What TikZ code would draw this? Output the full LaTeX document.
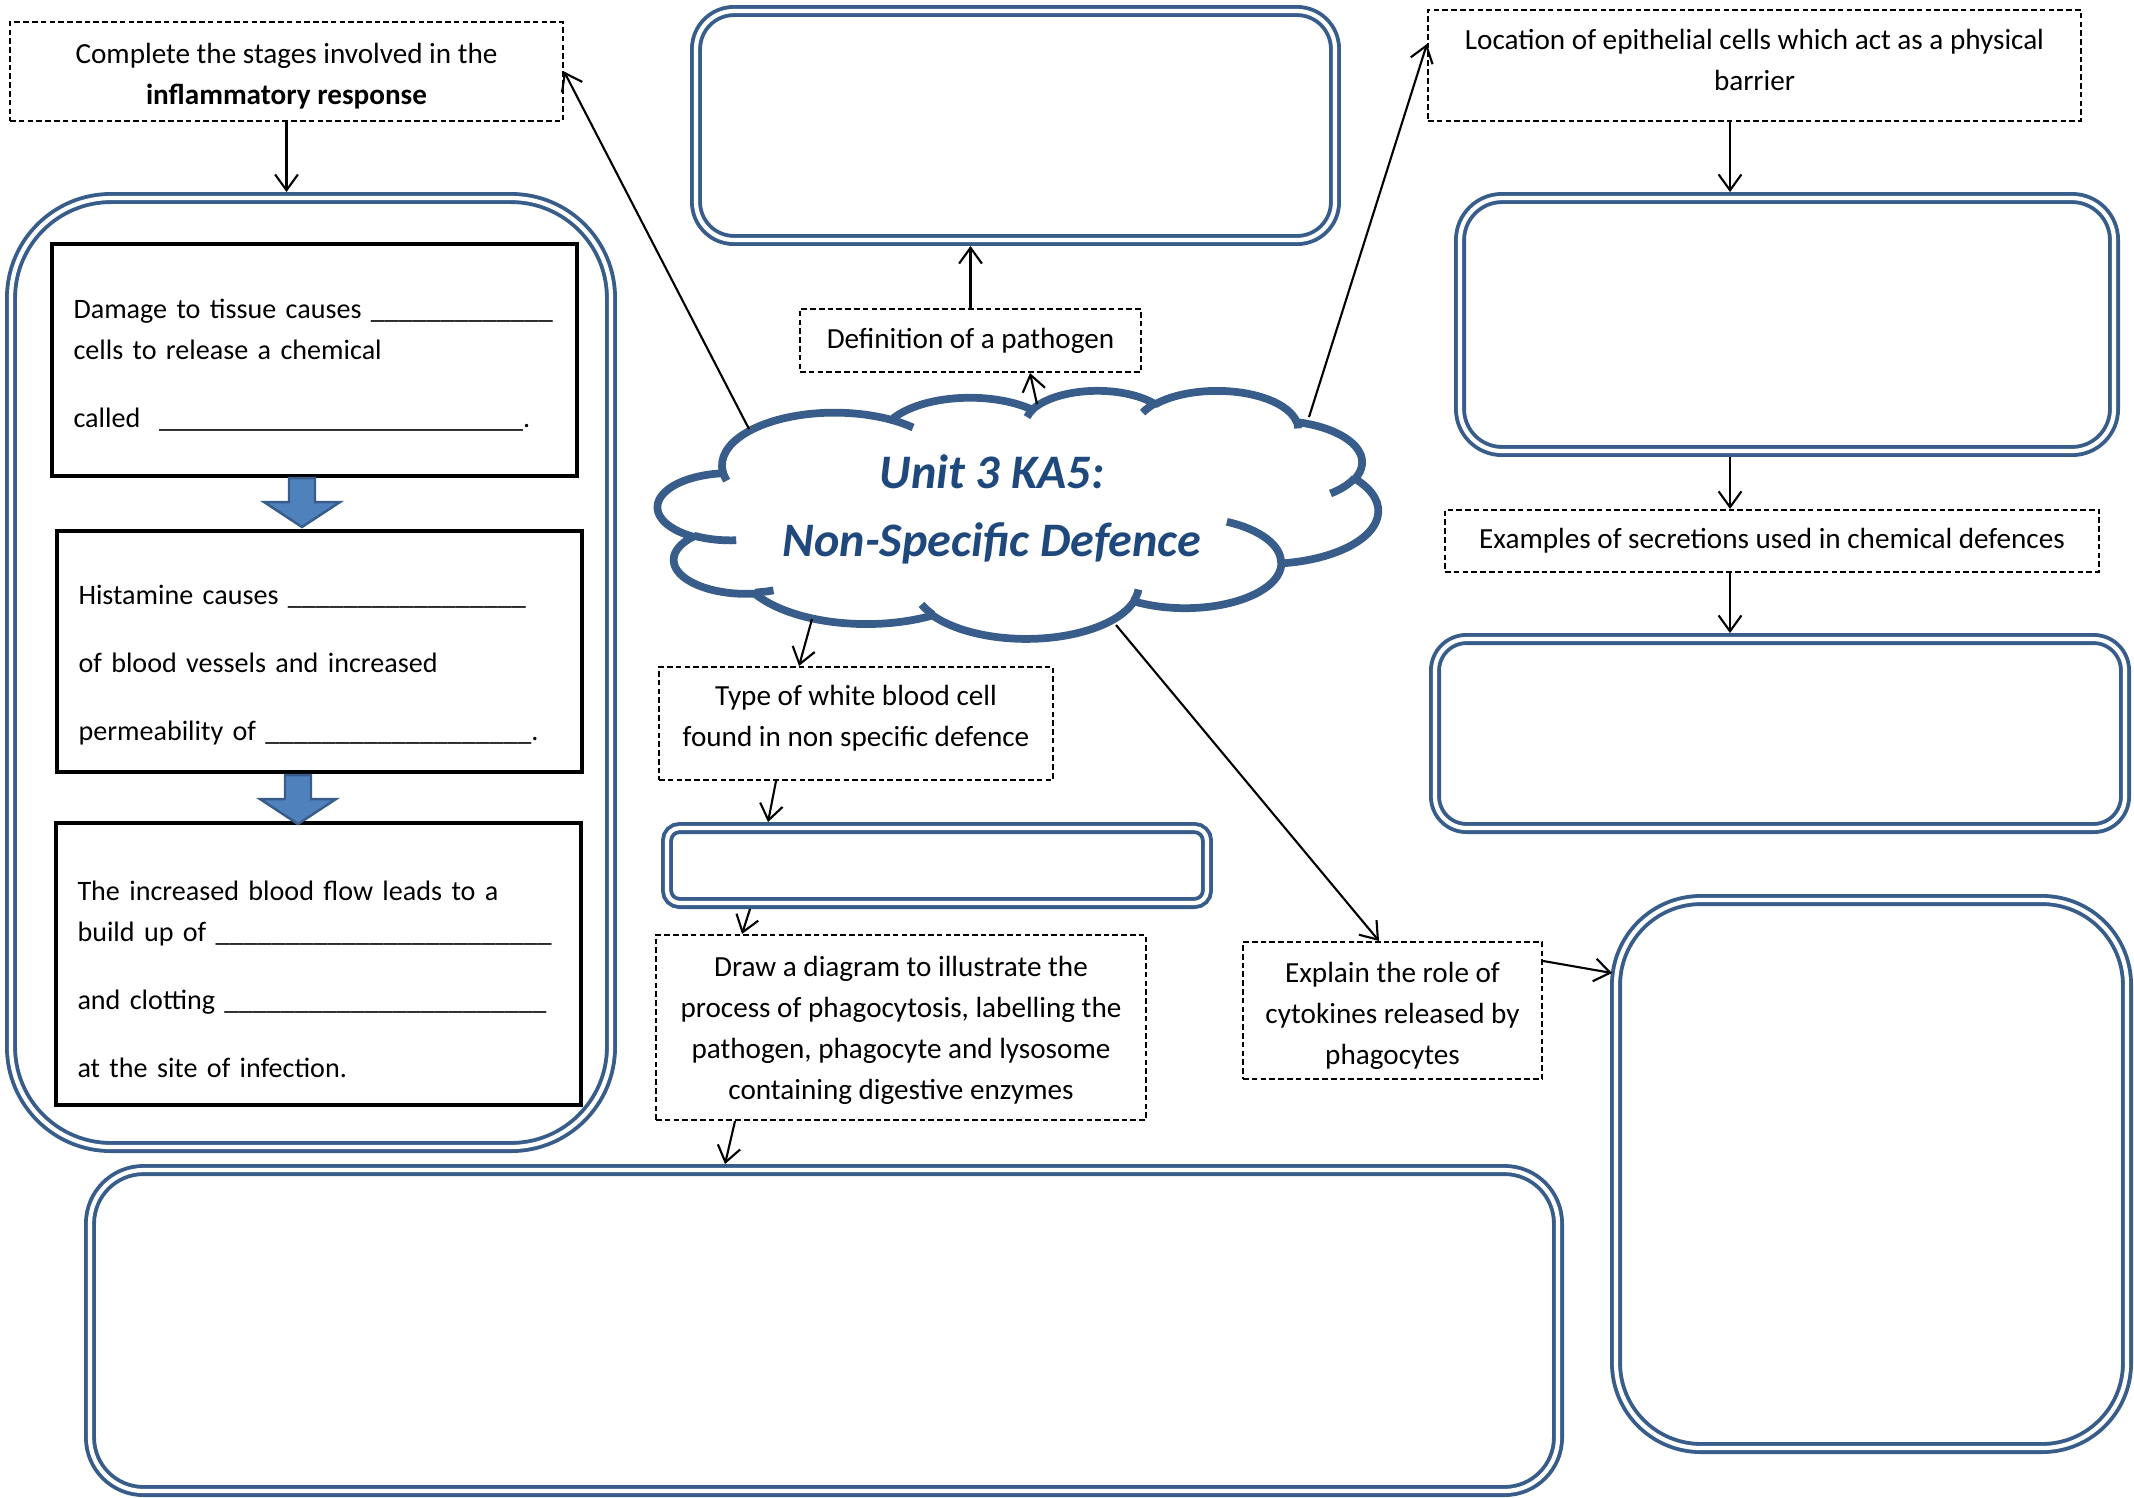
\documentclass[tikz,border=0pt]{standalone}
\usepackage{fontspec}
\setmainfont{Carlito}
\usetikzlibrary{arrows.meta}

\definecolor{boxblue}{HTML}{385D8A}
\definecolor{arrowfill}{HTML}{4F81BD}
\definecolor{titleblue}{HTML}{1F497D}

% one arc of the cloud outline: x radius, y radius, start and sweep (visual angles, degrees)
\newcommand\cloudarc[4]{arc[x radius=#1, y radius=#2,
  start angle={atan2(#1*sin(#3),#2*cos(#3))},
  delta angle={mod(atan2(#1*sin(#3+#4),#2*cos(#3+#4))-atan2(#1*sin(#3),#2*cos(#3))+720,360)}]}
% a blank to fill in
\newcommand\fillin[1]{\foreach \n in {1,...,#1}{\_}}

\begin{document}
\begin{tikzpicture}[
    font=\fontsize{8.3}{11.67}\selectfont,
    conn/.style={-{Straight Barb[length=4.5pt,width=6.5pt]}, line width=0.6pt},
    qbox/.style={draw, dash pattern=on 1.6pt off 0.9pt, line width=0.6pt, align=center, inner sep=0pt},
    dbox/.style={draw=boxblue, line width=1.1pt, double=white, double distance=1.2pt, inner sep=0pt, outer sep=1.7pt},
    stagebox/.style={draw, line width=1.1pt, align=left, inner xsep=0.215cm, inner ysep=0pt, text width=4.82cm,
        font=\fontsize{8.0}{11.67}\selectfont},
    blockarrow/.style={fill=arrowfill, draw=boxblue, line width=0.7pt},
    cloudline/.style={draw=boxblue, line width=2.2pt, line join=round},
    titletext/.style={font=\fontsize{13.7}{19.35}\selectfont\bfseries\itshape, text=titleblue, align=center}
  ]
    \useasboundingbox (0,0) rectangle (21.34,-14.97);

    % cloud in the middle
    \begin{scope}[shift={(6.58,-3.90)}, xscale=0.16667, yscale=-0.05741]
      \draw[cloudline, fill=white] (3.900,14.370)
        \cloudarc{6.753}{9.190}{-190.48748}{123.78053}
        \cloudarc{5.333}{7.267}{-144.10238}{89.94523}
        \cloudarc{4.365}{5.945}{-145.80792}{99.72302}
        \cloudarc{4.857}{6.595}{-130.98607}{117.24173}
        \cloudarc{5.333}{7.273}{-78.70888}{109.02692}
        \cloudarc{6.775}{9.220}{-46.26725}{130.26900}
        \cloudarc{5.785}{7.867}{0.62502}{114.03333}
        \cloudarc{6.752}{9.215}{22.45160}{115.17255}
        \cloudarc{7.720}{10.543}{66.24263}{75.71102}
        \cloudarc{4.360}{5.918}{-274.94208}{146.73557}
        \cloudarc{4.345}{5.945}{-246.82850}{152.51885} -- cycle;
      % inner arcs
      \draw[cloudline]
        (4.693,26.177) \cloudarc{4.345}{5.945}{86.742}{26.4295}
        (6.928,34.899) \cloudarc{4.360}{5.918}{73.61047}{11.44747}
        (16.478,39.090) \cloudarc{6.752}{9.215}{137.62415}{14.0811}
        (28.827,34.751) \cloudarc{6.752}{9.215}{6.45327}{15.99835}
        (34.129,22.954) \cloudarc{5.785}{7.867}{-70.29235}{70.91737}
        (41.798,15.354) \cloudarc{5.333}{7.273}{30.31803}{27.7515}
        (38.324,5.426) \cloudarc{4.857}{6.595}{-13.74433}{14.8589}
        (29.078,3.952) \cloudarc{4.857}{6.595}{-149.18145}{18.19537}
        (22.141,4.720) \cloudarc{4.365}{5.945}{-163.49427}{17.68635}
        (14.000,5.192) \cloudarc{6.753}{9.190}{-66.70695}{12.31935}
        (4.127,15.789) \cloudarc{6.753}{9.190}{157.65435}{11.85817};
    \end{scope}
    \node[titletext] (title) at (9.92,-5.09) {Unit 3 KA5:\\Non-Specific Defence};

    % where the lines leave the cloud
    \coordinate (cl-stages) at (7.49,-4.29);
    \coordinate (cl-def) at (10.37,-4.04);
    \coordinate (cl-barrier) at (13.09,-4.17);
    \coordinate (cl-cell) at (8.12,-6.19);
    \coordinate (cl-cyto) at (11.16,-6.25);
    \coordinate (rcol) at (17.30,0);
    \coordinate (tall-in) at (16.12,-9.73);

    % question boxes
    \node[qbox, minimum width=5.53cm, minimum height=0.99cm] (complete) at (2.865,-0.715)
        {\rule{0pt}{8.2pt}Complete the stages involved in the\\\textbf{inflammatory response}};
    \node[qbox, minimum width=3.41cm, minimum height=0.63cm] (def) at (9.705,-3.405) {Definition of a pathogen};
    \node[qbox, minimum width=6.53cm, minimum height=1.11cm] (loc) at (17.545,-0.655)
        {Location of epithelial cells which act as a physical\\barrier\rule[-3.1pt]{0pt}{0pt}};
    \node[qbox, minimum width=6.54cm, minimum height=0.62cm] (ex) at (17.72,-5.41)
        {Examples of secretions used in chemical defences};
    \node[qbox, minimum width=3.94cm, minimum height=1.13cm] (cell) at (8.56,-7.235)
        {Type of white blood cell\\found in non specific defence\rule[-4.4pt]{0pt}{0pt}};
    \node[qbox, minimum width=4.90cm, minimum height=1.85cm] (phago) at (9.01,-10.275)
        {\rule{0pt}{7.4pt}Draw a diagram to illustrate the\\process of phagocytosis, labelling the\\pathogen, phagocyte and lysosome\\containing digestive enzymes};
    \node[qbox, minimum width=2.99cm, minimum height=1.37cm] (explain) at (13.925,-10.105)
        {\rule{0pt}{9pt}Explain the role of\\cytokines released by\\phagocytes};

    % answer boxes
    \node[dbox, minimum width=6.00cm, minimum height=9.49cm, rounded corners=1.0cm] (leftbox) at (3.11,-6.725) {};
    \node[dbox, minimum width=6.39cm, minimum height=2.29cm, rounded corners=0.38cm] (topbox) at (10.155,-1.255) {};
    \node[dbox, minimum width=6.54cm, minimum height=2.53cm, rounded corners=0.42cm] (rtbox) at (17.87,-3.245) {};
    \node[dbox, minimum width=6.90cm, minimum height=1.89cm, rounded corners=0.315cm] (rmbox) at (17.80,-7.335) {};
    \node[dbox, minimum width=5.40cm, minimum height=0.75cm, rounded corners=0.125cm] (wide) at (9.37,-8.655) {};
    \node[dbox, minimum width=14.68cm, minimum height=3.21cm, rounded corners=0.535cm] (diagram) at (8.24,-13.305) {};
    \node[dbox, minimum width=5.11cm, minimum height=5.48cm, rounded corners=0.85cm] (tall) at (18.715,-11.74) {};

    % inflammatory response stages
    \node[stagebox, minimum height=2.32cm] (s1) at (3.145,-3.60)
        {\mbox{\rule{0pt}{8.2pt}Damage to tissue causes \fillin{13}}\\cells to release a chemical\\[0.27cm]\mbox{called~~\fillin{26}.}};
    \node[stagebox, minimum height=2.41cm] (s2) at (3.195,-6.515)
        {\mbox{\rule{0pt}{13pt}Histamine causes \fillin{17}}\\[0.27cm]of blood vessels and increased\\[0.27cm]\mbox{permeability of \fillin{19}.}};
    \node[stagebox, minimum height=2.82cm] (s3) at (3.185,-9.64)
        {\rule{0pt}{14.2pt}The increased blood flow leads to a\\\mbox{build up of \fillin{24}}\\[0.27cm]\mbox{and clotting \fillin{23}}\\[0.27cm]at the site of infection.};
    \foreach \x/\y in {3.02/4.78, 2.98/7.75}
        \draw[blockarrow] (\x-0.13,-\y) -- (\x+0.13,-\y) -- (\x+0.13,-\y-0.24) -- (\x+0.38,-\y-0.24)
            -- (\x,-\y-0.49) -- (\x-0.38,-\y-0.24) -- (\x-0.13,-\y-0.24) -- cycle;

    % connectors
    \draw[conn] (complete.south) -- (complete.south |- leftbox.north);
    \draw[conn] (cl-stages) -- (complete.east);
    \draw[conn] (def.north) -- (def.north |- topbox.south);
    \draw[conn] (cl-def) -- ([xshift=0.595cm]def.south);
    \draw[conn] (cl-barrier) -- ([yshift=-0.35cm]loc.north west);
    \draw[conn] (loc.south -| rcol) -- (rtbox.north -| rcol);
    \draw[conn] (rtbox.south -| rcol) -- (ex.north -| rcol);
    \draw[conn] (ex.south -| rcol) -- (rmbox.north -| rcol);
    \draw[conn] (cl-cell) -- ([xshift=-0.57cm]cell.north);
    \draw[conn] ([xshift=-0.80cm]cell.south) -- ([xshift=-1.69cm]wide.north);
    \draw[conn] ([xshift=-1.87cm]wide.south) -- ([xshift=-1.59cm]phago.north);
    \draw[conn] ([xshift=-1.66cm]phago.south) -- ([xshift=-0.99cm]diagram.north);
    \draw[conn] (cl-cyto) -- ([xshift=-0.135cm]explain.north);
    \draw[conn] ([yshift=-0.2cm]explain.north east) -- (tall-in);
\end{tikzpicture}
\end{document}
